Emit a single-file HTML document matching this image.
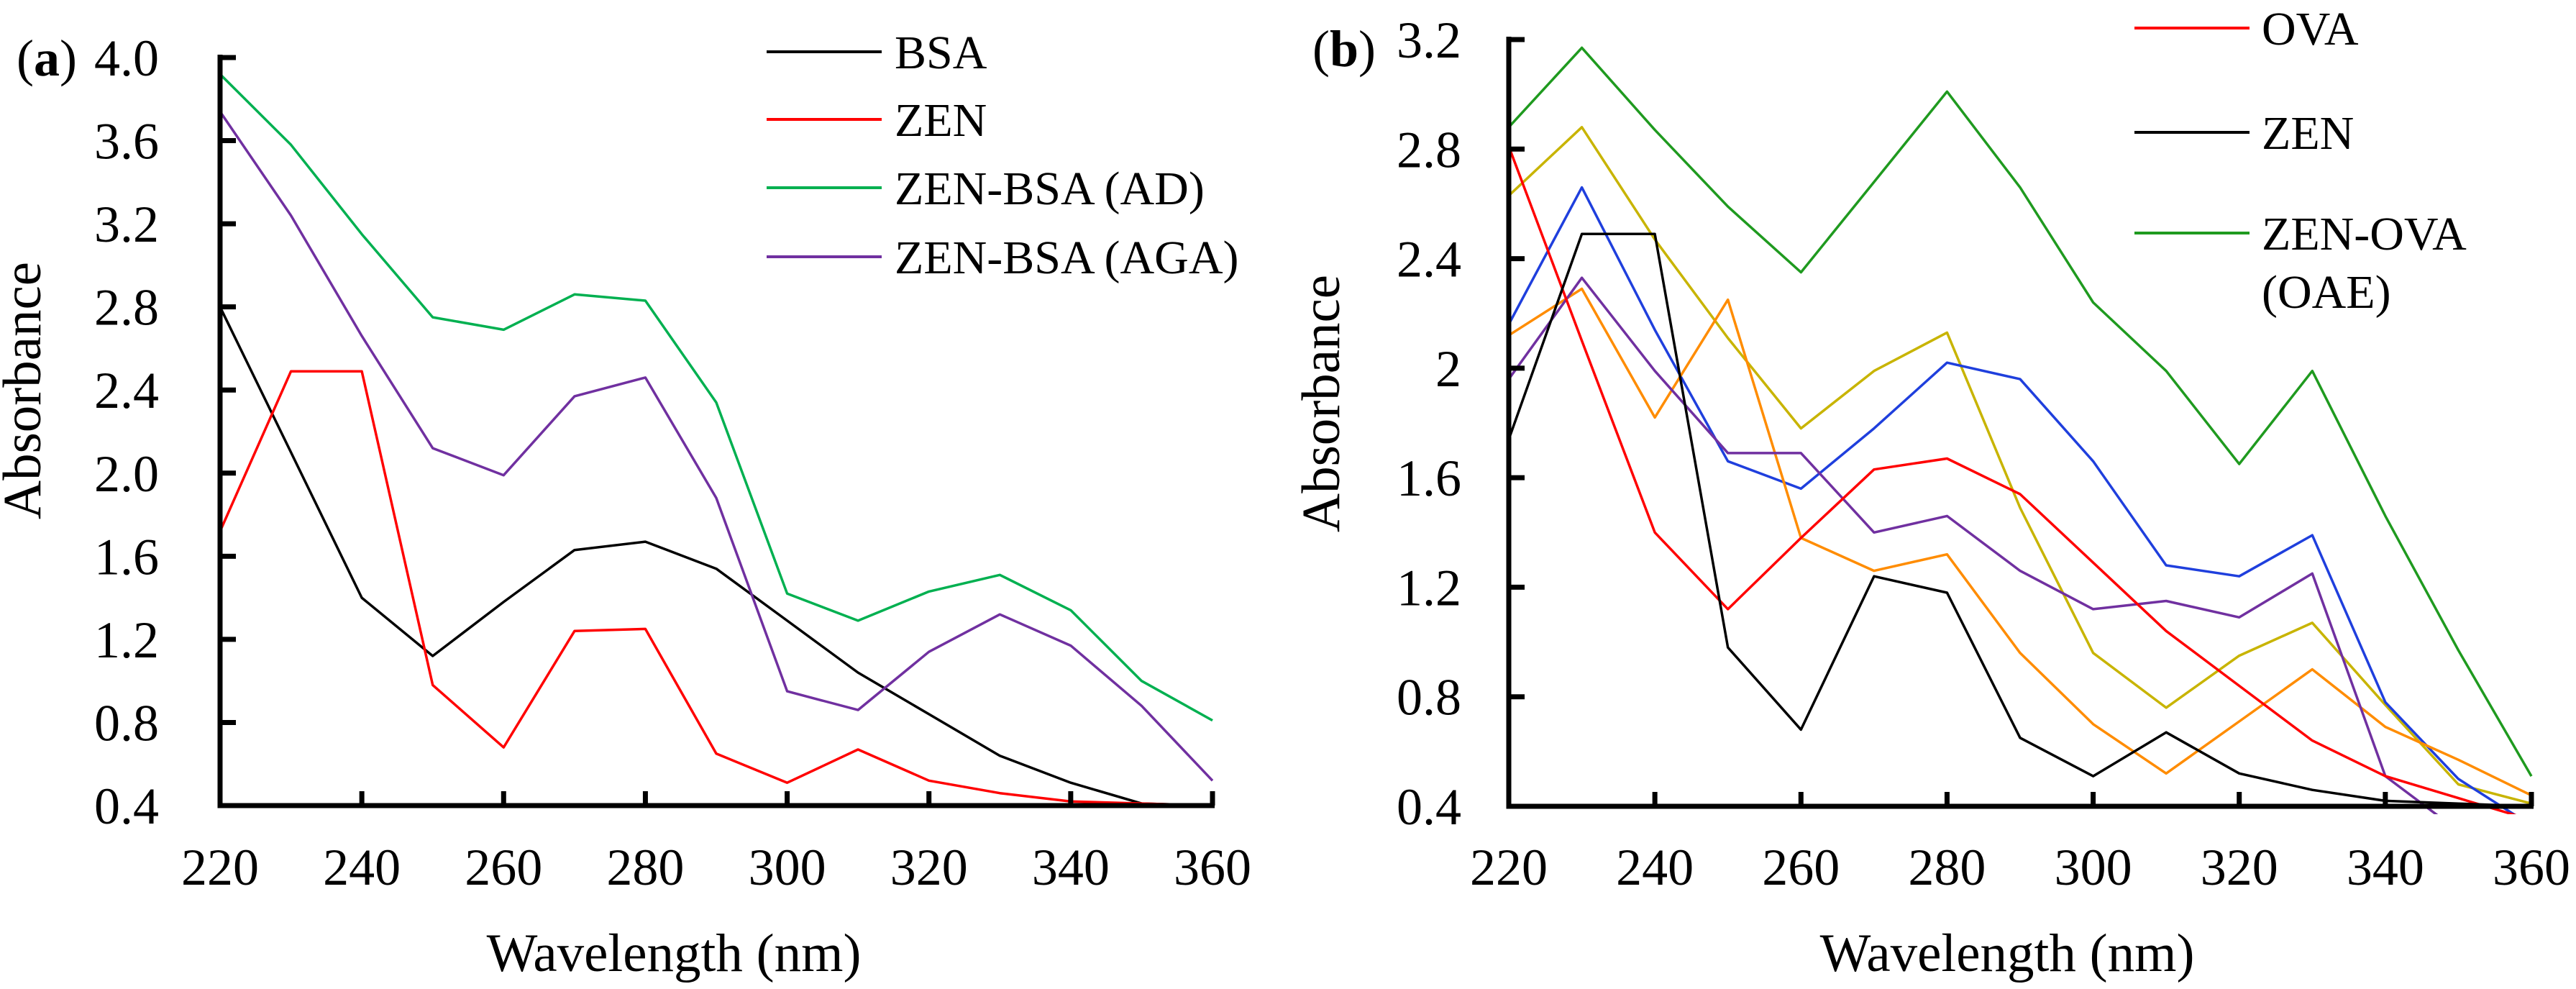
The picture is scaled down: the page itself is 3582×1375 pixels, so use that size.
<!DOCTYPE html>
<html><head><meta charset="utf-8">
<style>
html,body{margin:0;padding:0;background:#fff;}
svg{display:block;}
svg text{font-family:"Liberation Serif","Noto Serif CJK SC","DejaVu Serif",serif;}
</style></head>
<body>
<svg id="chart" width="3582" height="1375" viewBox="0 0 3582 1375" xmlns="http://www.w3.org/2000/svg">
<defs>
<clipPath id="clipA"><rect x="306" y="0" width="1390" height="1132"/></clipPath>
<clipPath id="clipB"><rect x="2098" y="0" width="1430" height="1132"/></clipPath>
</defs>
<g id="panelA"></g>
<g id="panelB"></g>
</svg>
<script>
const wavelengths = [220,230,240,250,260,270,280,290,300,310,320,330,340,350,360];
const xTicks = [220,240,260,280,300,320,340,360];
const yTicksA = ["0.4","0.8","1.2","1.6","2.0","2.4","2.8","3.2","3.6","4.0"];
const yTicksB = ["0.4","0.8","1.2","1.6","2","2.4","2.8","3.2"];

const bsaA   = [2.80,2.10,1.40,1.12,1.38,1.63,1.67,1.54,1.29,1.04,0.84,0.64,0.51,0.41,0.40];
const zenA   = [1.72,2.49,2.49,0.98,0.68,1.24,1.25,0.65,0.51,0.67,0.52,0.46,0.42,0.41,0.40];
const adA    = [3.92,3.58,3.15,2.75,2.69,2.86,2.83,2.34,1.42,1.29,1.43,1.51,1.34,1.00,0.81];
const agaA   = [3.74,3.24,2.66,2.12,1.99,2.37,2.46,1.88,0.95,0.86,1.14,1.32,1.17,0.88,0.52];

const ovaB    = [2.81,2.10,1.40,1.12,1.38,1.63,1.67,1.54,1.29,1.04,0.84,0.64,0.51,0.43,0.35];
const zenB    = [1.74,2.49,2.49,0.98,0.68,1.24,1.18,0.65,0.51,0.67,0.52,0.46,0.42,0.41,0.40];
const oaeB    = [2.88,3.17,2.87,2.59,2.35,2.68,3.01,2.66,2.24,1.99,1.65,1.99,1.46,0.97,0.51];
const yellowB = [2.63,2.88,2.47,2.11,1.78,1.99,2.13,1.49,0.96,0.76,0.95,1.07,0.77,0.48,0.41];
const blueB   = [2.16,2.66,2.14,1.66,1.56,1.78,2.02,1.96,1.66,1.28,1.24,1.39,0.78,0.50,0.33];
const orangeB = [2.12,2.29,1.82,2.25,1.38,1.26,1.32,0.96,0.70,0.52,0.71,0.90,0.69,0.57,0.44];
const purpleB = [1.96,2.33,1.99,1.69,1.69,1.40,1.46,1.26,1.12,1.15,1.09,1.25,0.51,0.31,0.10];

const NS="http://www.w3.org/2000/svg";
const FF='"Liberation Serif","Noto Serif CJK SC","DejaVu Serif",serif';
function mk(tag,attrs,parent){const e=document.createElementNS(NS,tag);for(const k in attrs)e.setAttribute(k,attrs[k]);if(tag==='text'){e.setAttribute('font-family',FF);e.style.fontFamily=FF;}parent.appendChild(e);return e;}

function drawPanel(g,cfg){
  const xS=v=>cfg.x0+(v-220)/(360-220)*(cfg.x1-cfg.x0);
  const yS=v=>cfg.yb+(v-0.4)/(cfg.ymax-0.4)*(cfg.yt-cfg.yb);
  const sg=mk('g',{'clip-path':cfg.clip},g);
  cfg.series.forEach(s=>{
    const d=s.vals.map((v,i)=>(i?'L':'M')+xS(wavelengths[i]).toFixed(1)+','+yS(v).toFixed(1)).join(' ');
    const p=mk('path',{d:d,fill:'none',stroke:s.color,'stroke-width':3.5,'stroke-linejoin':'round'},sg);
    
    
  });
  const ax=mk('g',{},g);
  
  
  mk('path',{d:`M${cfg.x0},${cfg.yt-4} L${cfg.x0},${cfg.yb} L${cfg.x1+3},${cfg.yb}`,fill:'none',stroke:'#000','stroke-width':7},ax);
  cfg.yTicks.forEach(t=>{
    const y=yS(parseFloat(t));
    mk('line',{x1:cfg.x0,y1:y,x2:cfg.x0+22,y2:y,stroke:'#000','stroke-width':7},ax);
    const tx=mk('text',{x:cfg.lblX,y:y+25,'text-anchor':'end','font-size':72},ax);
    tx.textContent=t;
    
    
  });
  xTicks.forEach(t=>{
    const x=xS(t);
    mk('line',{x1:x,y1:cfg.yb,x2:x,y2:cfg.yb-20,stroke:'#000','stroke-width':7},ax);
    const tx=mk('text',{x:x,y:1230,'text-anchor':'middle','font-size':72},ax);
    tx.textContent=t;
    
    
  });
  const xt=mk('text',{x:cfg.xtX,y:1350,'text-anchor':'middle','font-size':75},g);
  xt.textContent='Wavelength (nm)';
  
  
  const yt=mk('text',{x:0,y:0,'text-anchor':'middle','font-size':75,transform:`translate(${cfg.ytX+26},${cfg.ytY}) rotate(-90)`},g);
  yt.textContent='Absorbance';
  
  
  const pl=mk('text',{x:cfg.plX,y:cfg.plY+25,'font-size':72},g);
  pl.innerHTML='(<tspan font-weight="bold">'+cfg.pl+'</tspan>)';
  
  
  cfg.legend.forEach(L=>{
    const lg=mk('g',{},g);
    
    
    mk('line',{x1:cfg.lgX0,y1:L.y,x2:cfg.lgX1,y2:L.y,stroke:L.color,'stroke-width':4},lg);
    L.lines.forEach((s,i)=>{
      const t=mk('text',{x:cfg.lgTX,y:L.y+23+i*(cfg.lgLine||0),'font-size':66},lg);
      t.textContent=s;
    });
  });
}

drawPanel(document.getElementById('panelA'),{
  x0:306,x1:1686,yt:80,yb:1120,ymax:4.0,clip:'url(#clipA)',yTicks:yTicksA,lblX:221,
  xtX:937,ytX:30,ytY:543,pl:'a',plX:23,plY:80,
  series:[{name:'bsa-line',color:'#000',vals:bsaA},{name:'zen-line',color:'#ff0000',vals:zenA},
          {name:'zen-bsa-ad-line',color:'#00b050',vals:adA},{name:'zen-bsa-aga-line',color:'#7030a0',vals:agaA}],
  lgX0:1066,lgX1:1226,lgTX:1244,
  legend:[{y:72,color:'#000',lines:['BSA']},{y:166,color:'#ff0000',lines:['ZEN']},
          {y:261,color:'#00b050',lines:['ZEN-BSA (AD)']},{y:357,color:'#7030a0',lines:['ZEN-BSA (AGA)']}]
});
drawPanel(document.getElementById('panelB'),{
  x0:2098,x1:3520,yt:55,yb:1121,ymax:3.2,clip:'url(#clipB)',yTicks:yTicksB,lblX:2032,
  xtX:2791,ytX:1836,ytY:561,pl:'b',plX:1825,plY:67,
  series:[{name:'oaeB-line',color:'#1f9a1f',vals:oaeB},{name:'yellow-line',color:'#c8b400',vals:yellowB},
          {name:'blue-line',color:'#1f3fdd',vals:blueB},{name:'orange-line',color:'#ff8c00',vals:orangeB},
          {name:'purple-line',color:'#7030a0',vals:purpleB},{name:'ova-line',color:'#ff0000',vals:ovaB},
          {name:'zen-b-line',color:'#000',vals:zenB}],
  lgX0:2968,lgX1:3128,lgTX:3145,lgLine:81,
  legend:[{y:39,color:'#ff0000',lines:['OVA']},{y:184,color:'#000',lines:['ZEN']},
          {y:324,color:'#1f9a1f',lines:['ZEN-OVA','(OAE)']}]
});
</script>
</body></html>
